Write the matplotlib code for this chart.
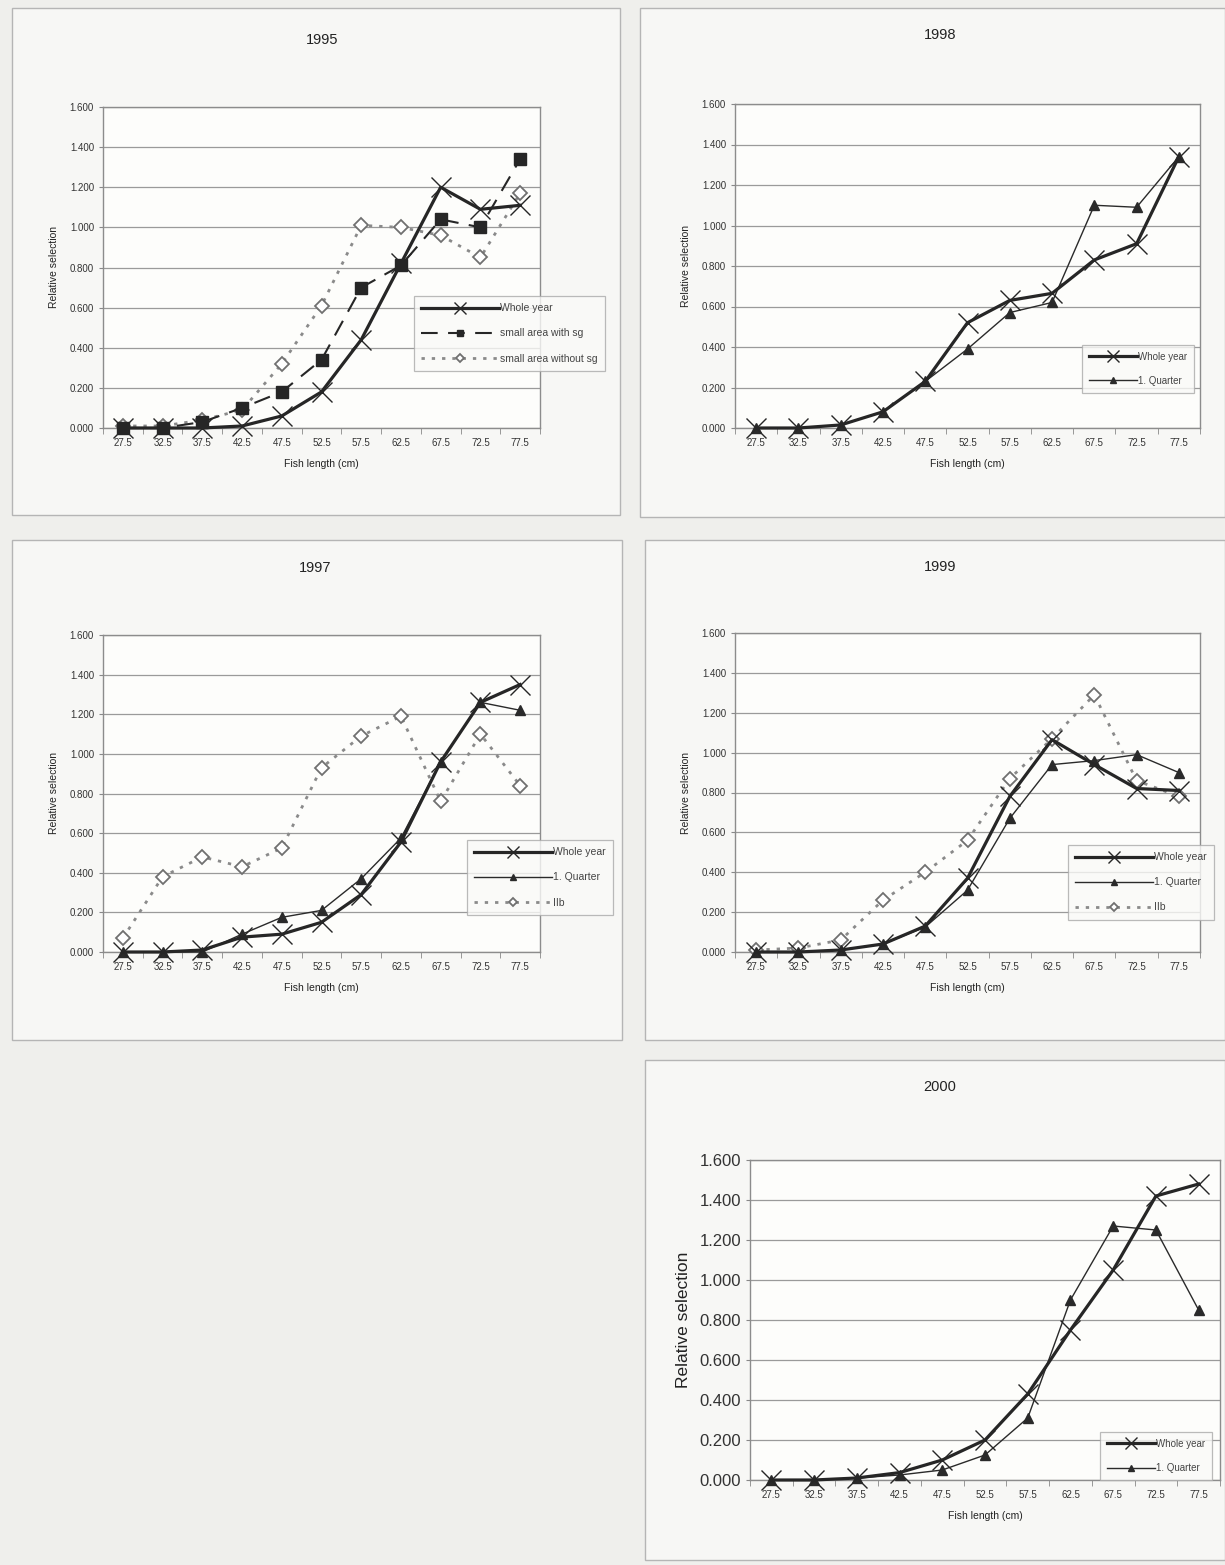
import numpy as np
import matplotlib.pyplot as plt
from matplotlib.patches import Rectangle
from matplotlib.ticker import FormatStrFormatter

plt.rcParams['font.family'] = ['Liberation Sans', 'DejaVu Sans']

W, H = 1225, 1565

lengths = ['27.5', '32.5', '37.5', '42.5', '47.5', '52.5', '57.5', '62.5', '67.5', '72.5', '77.5']

# 1995
y95_whole = [0.00, 0.00, 0.00, 0.01, 0.06, 0.18, 0.44, 0.82, 1.20, 1.09, 1.11]
y95_sg = [0.00, 0.00, 0.03, 0.10, 0.18, 0.34, 0.70, 0.81, 1.04, 1.00, 1.34]
y95_nosg = [0.01, 0.01, 0.04, 0.09, 0.32, 0.61, 1.01, 1.00, 0.96, 0.85, 1.17]

# 1998
y98_whole = [0.00, 0.00, 0.015, 0.08, 0.23, 0.52, 0.63, 0.665, 0.83, 0.91, 1.34]
y98_q1 = [0.00, 0.00, 0.015, 0.08, 0.23, 0.39, 0.57, 0.62, 1.10, 1.09, 1.34]

# 1997
y97_whole = [0.00, 0.00, 0.01, 0.075, 0.09, 0.15, 0.29, 0.555, 0.96, 1.26, 1.35]
y97_q1 = [0.00, 0.00, 0.00, 0.09, 0.175, 0.21, 0.37, 0.575, 0.96, 1.26, 1.22]
y97_iib = [0.07, 0.38, 0.48, 0.43, 0.525, 0.93, 1.09, 1.19, 0.76, 1.10, 0.84]

# 1999
y99_whole = [0.00, 0.00, 0.01, 0.04, 0.13, 0.37, 0.78, 1.065, 0.94, 0.82, 0.81]
y99_q1 = [0.00, 0.00, 0.01, 0.04, 0.125, 0.31, 0.67, 0.94, 0.96, 0.99, 0.90]
y99_iib = [0.01, 0.02, 0.06, 0.26, 0.40, 0.56, 0.87, 1.07, 1.29, 0.86, 0.78]

# 2000
y00_whole = [0.00, 0.00, 0.01, 0.037, 0.10, 0.20, 0.43, 0.75, 1.05, 1.42, 1.48]
y00_q1 = [0.00, 0.00, 0.01, 0.025, 0.05, 0.125, 0.31, 0.90, 1.27, 1.25, 0.85]

x = np.arange(len(lengths))


def fig_rect(left, top, width, height):
    return [left / W, 1 - (top + height) / H, width / W, height / H]


def panel_box(fig, left, top, width, height):
    fig.patches.append(Rectangle((left / W, 1 - (top + height) / H), width / W, height / H,
                                 transform=fig.transFigure, fill=True, facecolor='#f7f7f5',
                                 edgecolor='#b5b5b5', lw=1.0, zorder=-5))


def whole_year(ax, y):
    ax.plot(x, y, color='#262626', lw=2.3, marker='x', ms=15, mew=1.0,
            label='Whole year', clip_on=False, zorder=5)


def quarter(ax, y):
    ax.plot(x, y, color='#2a2a2a', lw=1.0, marker='^', ms=7,
            label='1. Quarter', clip_on=False, zorder=4)


def iib(ax, y, label='IIb'):
    ax.plot(x, y, color='#8a8a8a', lw=2.0, ls=(0, (1.2, 2.5)), marker='D', ms=7,
            mfc='white', mec='#707070', mew=1.3, label=label, clip_on=False, zorder=3)


def setup(ax, title, title_pos, big=False):
    ax.set_facecolor('#fdfdfb')
    ax.set_xlim(-0.5, len(lengths) - 0.5)
    ax.set_ylim(0, 1.6)
    ax.set_yticks(np.arange(0, 1.61, 0.2))
    ax.yaxis.set_major_formatter(FormatStrFormatter('%.3f'))
    ax.grid(axis='y', color='#9a9a9a', lw=0.9)
    ax.set_axisbelow(True)
    ax.set_xticks(x)
    ax.set_xticklabels(lengths)
    ax.set_xticks(np.arange(-0.5, len(lengths), 1), minor=True)
    ax.tick_params(axis='x', which='major', length=0, labelsize=7, pad=7, colors='#333333')
    ax.tick_params(axis='x', which='minor', length=4, color='#888888')
    ax.tick_params(axis='y', length=3, color='#888888', labelsize=12 if big else 7,
                   colors='#333333')
    for s in ax.spines.values():
        s.set_color('#8c8c8c')
        s.set_linewidth(1.0)
    ax.set_xlabel('Fish length (cm)', fontsize=7.5, color='#222222', labelpad=8)
    ax.set_ylabel('Relative selection', fontsize=12.5 if big else 7.5,
                  color='#222222', labelpad=6 if big else 8)
    ax.figure.text(title_pos[0] / W, 1 - title_pos[1] / H, title,
                   ha='center', va='center', fontsize=10.5, color='#222222')


def legend(ax, anchor, size=7.5, handle=7.5):
    leg = ax.legend(loc='upper left', bbox_to_anchor=(anchor[0] / W, 1 - anchor[1] / H),
                    bbox_transform=ax.figure.transFigure, fontsize=size, frameon=True,
                    fancybox=False, edgecolor='#aaaaaa', handlelength=handle,
                    markerscale=0.55, borderpad=0.7, labelspacing=1.45, handletextpad=0.1,
                    borderaxespad=0)
    leg.get_frame().set_linewidth(0.9)
    leg.get_frame().set_facecolor('#fafaf8')
    for t in leg.get_texts():
        t.set_color('#444444')


fig = plt.figure(figsize=(W / 100, H / 100), dpi=100, facecolor='#efefec')

panel_box(fig, 12, 8, 608, 507)
panel_box(fig, 640, 8, 585, 509)
panel_box(fig, 12, 540, 610, 500)
panel_box(fig, 645, 540, 580, 500)
panel_box(fig, 645, 1060, 580, 500)

# 1995
ax = fig.add_axes(fig_rect(103, 107, 437, 321))
setup(ax, '1995', (322, 40))
whole_year(ax, y95_whole)
ax.plot(x, y95_sg, color='#262626', lw=1.5, ls=(0, (8, 5)), marker='s', ms=8.5,
        label='small area with sg', clip_on=False, zorder=4)
iib(ax, y95_nosg, label='small area without sg')
legend(ax, (414, 296))

# 1998
ax = fig.add_axes(fig_rect(735, 104, 465, 324))
setup(ax, '1998', (940, 35))
whole_year(ax, y98_whole)
quarter(ax, y98_q1)
legend(ax, (1082, 345), size=7, handle=5)

# 1997
ax = fig.add_axes(fig_rect(103, 635, 437, 317))
setup(ax, '1997', (315, 568))
whole_year(ax, y97_whole)
quarter(ax, y97_q1)
iib(ax, y97_iib)
legend(ax, (467, 840))

# 1999
ax = fig.add_axes(fig_rect(735, 633, 465, 319))
setup(ax, '1999', (940, 567))
whole_year(ax, y99_whole)
quarter(ax, y99_q1)
iib(ax, y99_iib)
legend(ax, (1068, 845))

# 2000
ax = fig.add_axes(fig_rect(750, 1160, 470, 320))
setup(ax, '2000', (940, 1087), big=True)
whole_year(ax, y00_whole)
quarter(ax, y00_q1)
legend(ax, (1100, 1432), size=7, handle=5)

fig.savefig('out.png', dpi=100, facecolor=fig.get_facecolor())
